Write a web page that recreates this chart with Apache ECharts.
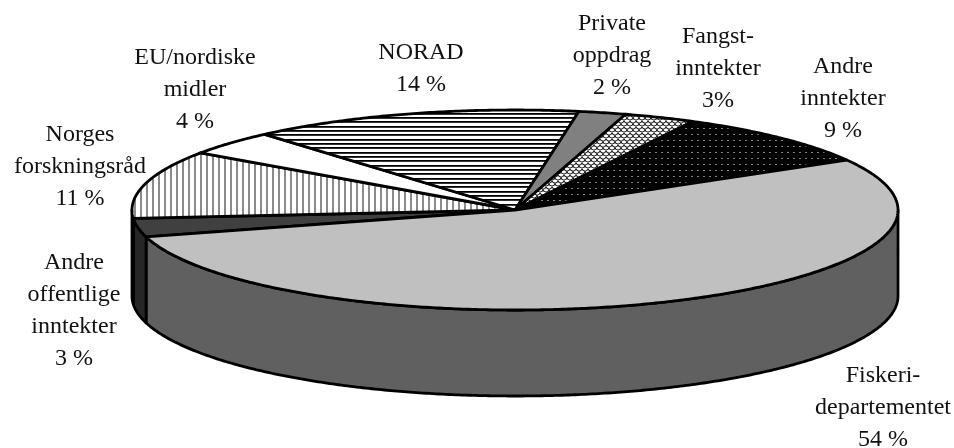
<!DOCTYPE html>
<html>
<head>
<meta charset="utf-8">
<style>html,body{margin:0;padding:0;background:#fff}#c{width:954px;height:448px}</style>
<script src="https://cdn.jsdelivr.net/npm/echarts@6/dist/echarts.min.js"></script>
</head>
<body>
<div id="c"></div>
<script>
// Clockwise from the top-right rim
var categories = ['Fiskeridepartementet','Andre offentlige inntekter','Norges forskningsråd','EU/nordiske midler','NORAD','Private oppdrag','Fangstinntekter','Andre inntekter'];
var values = [54, 3, 11, 4, 14, 2, 3, 9];
var labelLines = [
  ['Fiskeri-','departementet','54 %'],
  ['Andre','offentlige','inntekter','3 %'],
  ['Norges','forskningsråd','11 %'],
  ['EU/nordiske','midler','4 %'],
  ['NORAD','14 %'],
  ['Private','oppdrag','2 %'],
  ['Fangst-','inntekter','3%'],
  ['Andre','inntekter','9 %']
];
// label block centre x / first-line centre y
var labelX = [883, 74, 80, 195, 421, 612, 718, 843];
var labelY = [376, 263, 135, 58, 53, 24, 37, 67];
var wallColors = {0:'#606060', 1:'#262626'};
var startDeg = 30, cx = 515, cy = 210, rx = 383, ry = 100, depth = 86;

function tile(w,h,draw){var c=document.createElement('canvas');c.width=w;c.height=h;draw(c.getContext('2d'));return {image:c,repeat:'repeat'};}
var fills = [
  '#c0c0c0',
  '#404040',
  tile(6,6,function(g){g.fillStyle='#fff';g.fillRect(0,0,6,6);g.fillStyle='#8a8a8a';g.fillRect(2,0,2,6);}),
  '#ffffff',
  tile(4,13,function(g){g.fillStyle='#fff';g.fillRect(0,0,4,13);[0,4,9].forEach(function(y){g.fillStyle='#000';g.fillRect(0,y,4,1);g.fillStyle='#333';g.fillRect(0,y+1,4,1);});}),
  '#808080',
  tile(6,6,function(g){g.fillStyle='#fff';g.fillRect(0,0,6,6);g.strokeStyle='#222';g.lineWidth=1.1;
    g.beginPath();g.arc(3,0,3,0.1,Math.PI-0.1);g.stroke();
    g.beginPath();g.arc(0,3,3,0.1,Math.PI/2);g.stroke();
    g.beginPath();g.arc(6,3,3,Math.PI/2,Math.PI-0.1);g.stroke();}),
  tile(6,6,function(g){g.fillStyle='#000';g.fillRect(0,0,6,6);g.fillStyle='#808080';g.fillRect(1,2,2,1);})
];

var total = values.reduce(function(a,b){return a+b;},0);
var startOf = []; (function(){var s=startDeg;values.forEach(function(v){startOf.push(s);s-=v/total*360;});})();

function pt(deg,dy){var t=deg*Math.PI/180;return [cx+rx*Math.cos(t),cy-ry*Math.sin(t)+(dy||0)];}
function arc(a,b,dy){var n=Math.max(2,Math.ceil(Math.abs(b-a)*2)),o=[];for(var i=0;i<=n;i++)o.push(pt(a+(b-a)*i/n,dy));return o;}
var stroke = {stroke:'#000',lineWidth:2.8,lineJoin:'round'};

function renderItem(params, api){
  var i = params.dataIndex, v = api.value(0), a = startOf[i], b = a - v/total*360, kids = [];
  // side wall: only the front half of the rim (angles 0 to -180)
  var wa = Math.min(a,0), wb = Math.max(b,-180);
  if (wa > wb) {
    var wall = arc(wa,wb,0).concat(arc(wb,wa,depth));
    kids.push({type:'polygon',z2:1,shape:{points:wall},style:Object.assign({fill:wallColors[i]},stroke)});
  }
  var top = [[cx,cy]].concat(arc(a,b,0));
  kids.push({type:'polygon',z2:i===0?3:2,shape:{points:top},style:Object.assign({fill:fills[i]},stroke)});
  labelLines[i].forEach(function(t,k){
    kids.push({type:'text',z2:5,x:labelX[i],y:labelY[i]+k*31.8,style:{text:t,fill:'#111',font:'24px "Liberation Serif"',textAlign:'center',textVerticalAlign:'middle'}});
  });
  return {type:'group',children:kids};
}

var chart = echarts.init(document.getElementById('c'),null,{renderer:'canvas'});
chart.setOption({
  animation:false,
  backgroundColor:'#fff',
  xAxis:{show:false},yAxis:{show:false},
  series:[{type:'custom',coordinateSystem:'none',renderItem:renderItem,clip:false,
    data:values.map(function(v,i){return {name:categories[i],value:[v]};})}]
});
</script>
</body>
</html>
